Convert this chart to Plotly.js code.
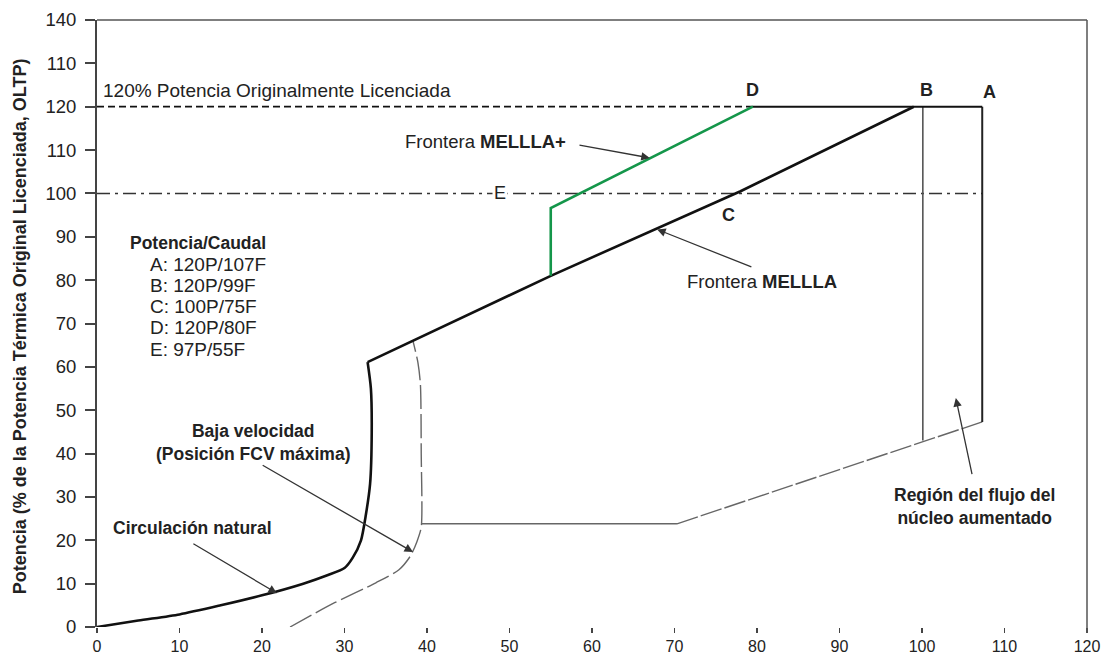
<!DOCTYPE html>
<html>
<head>
<meta charset="utf-8">
<script src="https://cdn.plot.ly/plotly-3.0.1.min.js"></script>
<style>
  html, body { margin: 0; padding: 0; background: #ffffff; }
  #chart { width: 1104px; height: 657px; }
</style>
</head>
<body>
<div id="chart"></div>
<script>
// ---- Data ----
// Y tick labels (the reference labels the 130 tick as "110")
const yTickVals = [0, 10, 20, 30, 40, 50, 60, 70, 80, 90, 100, 110, 120, 130, 140];
const yTickText = ["0", "10", "20", "30", "40", "50", "60", "70", "80", "90", "100", "110", "120", "110", "140"];
const xTickVals = [0, 10, 20, 30, 40, 50, 60, 70, 80, 90, 100, 110, 120];

// Natural circulation curve (flow %, power %)
const naturalFlow  = [0, 5, 10, 15, 20, 25, 28, 30, 31, 32, 32.6, 33.1, 33.3, 33.2, 32.8];
const naturalPower = [0, 1.5, 2.9, 5, 7.3, 10, 12, 13.6, 16, 20, 26, 33, 45, 55, 61.1];

// MELLLA boundary line
const melllaFlow  = [32.8, 55, 78, 99];
const melllaPower = [61.1, 81, 100.5, 120];

// MELLLA+ boundary
const melllaPlusFlow  = [55, 55, 79.5];
const melllaPlusPower = [81, 96.6, 120];

// Low speed (max FCV position) curve
const lowSpeedFlow  = [23.4, 28.8, 33.8, 36.6, 38.0, 38.8, 39.3, 39.3, 39.2, 38.9, 38.3];
const lowSpeedPower = [0, 5.6, 10.2, 13.2, 16.4, 19.8, 23, 40, 56, 61, 66];

// Minimum power line
const minFlatFlow  = [39.3, 70.3];
const minFlatPower = [23.8, 23.8];
const minSlopeFlow  = [70.3, 107.3];
const minSlopePower = [23.8, 47.3];

// 120% OLTP line: dashed part, then solid part D -> A
const oltpDashFlow  = [0, 79.5];
const oltpDashPower = [120, 120];
const oltpSolidFlow  = [79.5, 107.3];
const oltpSolidPower = [120, 120];

// Point A and B verticals
const aFlow  = [107.3, 107.3];
const aPower = [120, 47.3];
const bFlow  = [100.1, 100.1];
const bPower = [120, 43];

// Line E (dash-dot)
const eFlow  = [0, 107.3];
const ePower = [100, 100];

// Point labels
const pointLabels = ["D", "B", "A", "C"];
const pointLabelX = [79.5, 100.6, 108.2, 76.5];
const pointLabelY = [123.8, 123.8, 123.4, 95];

const legendTitle = "Potencia/Caudal";
const legendItems = ["A: 120P/107F", "B: 120P/99F", "C: 100P/75F", "D: 120P/80F", "E: 97P/55F"];

const FONT = "Liberation Sans, Arial, Helvetica, sans-serif";
const TXT = "#222222";

function line(x, y, color, width, dash, shape) {
  return {
    x: x, y: y, type: "scatter", mode: "lines", hoverinfo: "skip", showlegend: false,
    line: { color: color, width: width, dash: dash || "solid", shape: shape || "linear", smoothing: 0.7 }
  };
}

const traces = [
  line(oltpDashFlow, oltpDashPower, "#111111", 1.8, "7px,4px"),
  line(eFlow, ePower, "#333333", 1.6, "13px,5px,3px,5px"),
  line(minFlatFlow, minFlatPower, "#666666", 1.4),
  line(minSlopeFlow, minSlopePower, "#666666", 1.4, "22px,3px"),
  line(lowSpeedFlow, lowSpeedPower, "#666666", 1.4, "24px,5px", "spline"),
  line(bFlow, bPower, "#555555", 1.6),
  line(aFlow, aPower, "#222222", 2),
  line(oltpSolidFlow, oltpSolidPower, "#111111", 2),
  line(naturalFlow, naturalPower, "#111111", 2.6, "solid", "spline"),
  line(melllaFlow, melllaPower, "#111111", 2.6),
  line(melllaPlusFlow, melllaPlusPower, "#14964a", 2.6)
];

const annotations = [];

// Y axis title
annotations.push({
  xref: "paper", yref: "paper", x: -0.078, y: 0.495, textangle: -90,
  text: "Potencia (% de la Potencia Térmica Original Licenciada, OLTP)",
  showarrow: false, font: { family: FONT, size: 18, color: TXT, weight: "bold" },
  xanchor: "center", yanchor: "middle"
});

// 120% text
annotations.push({
  x: 0.5, y: 123.8, xref: "x", yref: "y", xanchor: "left", yanchor: "middle",
  text: "120% Potencia Originalmente Licenciada", showarrow: false,
  font: { family: FONT, size: 19, color: TXT }
});

// Point labels
pointLabels.forEach((t, i) => {
  annotations.push({
    x: pointLabelX[i], y: pointLabelY[i], xref: "x", yref: "y",
    text: "<b>" + t + "</b>", showarrow: false, xanchor: "center", yanchor: "middle",
    font: { family: FONT, size: 18, color: TXT }
  });
});

// E label with white gap
annotations.push({
  x: 48.8, y: 100, xref: "x", yref: "y", text: "E", showarrow: false,
  bgcolor: "#ffffff", borderpad: 1, xanchor: "center", yanchor: "middle",
  font: { family: FONT, size: 18, color: TXT }
});

// Legend block
annotations.push({
  x: 3.8, y: 88.6, xref: "x", yref: "y", xanchor: "left", yanchor: "middle",
  text: "<b>" + legendTitle + "</b>", showarrow: false,
  font: { family: FONT, size: 17.5, color: TXT }
});
legendItems.forEach((t, i) => {
  annotations.push({
    x: 6.2, y: 83.7 - i * 4.9, xref: "x", yref: "y", xanchor: "left", yanchor: "middle",
    text: t, showarrow: false, font: { family: FONT, size: 19, color: TXT }
  });
});

// Frontera MELLLA+
annotations.push({
  x: 37.1, y: 111.9, xref: "x", yref: "y", xanchor: "left", yanchor: "middle",
  text: "Frontera <b>MELLLA+</b>", showarrow: false,
  font: { family: FONT, size: 18.5, color: TXT }
});
// Frontera MELLLA
annotations.push({
  x: 71.3, y: 79.6, xref: "x", yref: "y", xanchor: "left", yanchor: "middle",
  text: "Frontera <b>MELLLA</b>", showarrow: false,
  font: { family: FONT, size: 18.5, color: TXT }
});
// Baja velocidad
annotations.push({
  x: 19.0, y: 42.5, xref: "x", yref: "y", xanchor: "center", yanchor: "middle",
  text: "<b>Baja velocidad<br>(Posición FCV máxima)</b>", showarrow: false,
  font: { family: FONT, size: 17.5, color: TXT }
});
// Circulación natural
annotations.push({
  x: 11.6, y: 22.8, xref: "x", yref: "y", xanchor: "center", yanchor: "middle",
  text: "<b>Circulación natural</b>", showarrow: false,
  font: { family: FONT, size: 17.5, color: TXT }
});
// Región del flujo
annotations.push({
  x: 106.4, y: 27.9, xref: "x", yref: "y", xanchor: "center", yanchor: "middle",
  text: "<b>Región del flujo del<br>núcleo aumentado</b>", showarrow: false,
  font: { family: FONT, size: 17.5, color: TXT }
});

// Arrows (tail -> head), in data coordinates
const arrowTailX = [58.3, 79.5, 19.9, 11.5, 106.1];
const arrowTailY = [111.2, 82.9, 37.5, 19.4, 34.9];
const arrowHeadX = [67.0, 67.9, 38.3, 21.8, 104.1];
const arrowHeadY = [108.2, 91.7, 17.3, 7.8, 52.8];
arrowHeadX.forEach((hx, i) => {
  annotations.push({
    x: hx, y: arrowHeadY[i], ax: arrowTailX[i], ay: arrowTailY[i],
    xref: "x", yref: "y", axref: "x", ayref: "y",
    text: "", showarrow: true, arrowhead: 2, arrowsize: 1.3, arrowwidth: 1.3,
    arrowcolor: "#333333", standoff: 0, startstandoff: 0
  });
});

const layout = {
  width: 1104, height: 657,
  margin: { l: 97, r: 17, t: 20, b: 30, pad: 0 },
  paper_bgcolor: "#ffffff", plot_bgcolor: "#ffffff",
  showlegend: false,
  font: { family: FONT, color: TXT, size: 16 },
  xaxis: {
    range: [0, 120], tickvals: xTickVals, ticks: "outside", ticklen: 5, tickwidth: 1.5,
    tickcolor: "#444444", showline: false, showgrid: false, zeroline: false,
    tickfont: { family: FONT, size: 16, color: TXT }, fixedrange: true
  },
  yaxis: {
    range: [0, 140], tickvals: yTickVals, ticktext: yTickText, ticks: "outside", ticklen: 10,
    tickwidth: 2, tickcolor: "#444444", showline: true, linecolor: "#444444", linewidth: 2,
    mirror: false, showgrid: false, zeroline: false, ticklabelstandoff: 5,
    tickfont: { family: FONT, size: 18.5, color: TXT }, fixedrange: true
  },
  shapes: [
    { type: "line", xref: "paper", yref: "paper", x0: 0, x1: 1, y0: 1, y1: 1, line: { color: "#555555", width: 1.5 } },
    { type: "line", xref: "paper", yref: "paper", x0: 1, x1: 1, y0: -0.01, y1: 1, line: { color: "#555555", width: 1.5 } }
  ],
  annotations: annotations
};

Plotly.newPlot("chart", traces, layout, { staticPlot: true, displayModeBar: false });
</script>
</body>
</html>
